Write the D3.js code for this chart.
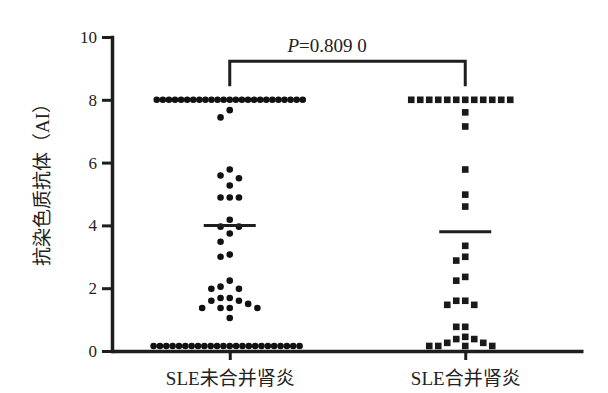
<!DOCTYPE html>
<html>
<head>
<meta charset="utf-8">
<script src="https://cdn.jsdelivr.net/npm/d3@7"></script>
<style>
  body { margin: 0; background: #fff; }
  svg { display: block; }
  text { font-family: "Liberation Serif", "Times New Roman", "Noto Sans CJK SC", serif; fill: #222; }
</style>
</head>
<body>
<svg width="608" height="393"></svg>
<script>
// values
var categories = ['SLE未合并肾炎', 'SLE合并肾炎'];
var groupA = [8, 8, 8, 8, 8, 8, 8, 8, 8, 8, 8, 8, 8, 8, 8, 8, 8, 8, 8, 8, 8, 8, 8, 8, 8,
  7.67, 7.44, 5.78, 5.59, 5.5, 5.27, 4.89, 4.89, 4.89, 4.18, 3.96, 3.96, 3.74, 3.48,
  3.07, 3.0, 2.24, 2.05, 1.98, 1.98, 1.69, 1.69, 1.6, 1.6, 1.5, 1.37, 1.37, 1.37, 1.37, 1.05,
  0.16, 0.16, 0.16, 0.16, 0.16, 0.16, 0.16, 0.16, 0.16, 0.16, 0.16, 0.16,
  0.16, 0.16, 0.16, 0.16, 0.16, 0.16, 0.16, 0.16, 0.16, 0.16, 0.16, 0.16];
var groupB = [8, 8, 8, 8, 8, 8, 8, 8, 8, 8, 8, 8,
  7.6, 7.15, 5.78, 4.98, 4.6, 3.35, 3.0, 2.88, 2.36, 2.24, 1.6, 1.6, 1.47, 1.47,
  0.77, 0.77, 0.45, 0.38, 0.38, 0.26, 0.26, 0.16, 0.16, 0.16, 0.16];
var means = [4.0, 3.8];
var yTicks = [0, 2, 4, 6, 8, 10];
var yTitle = '抗染色质抗体（AI）';
var pText = ['P', '=0.809 0'];

var svg = d3.select('svg');
var ink = '#1e1e1e';

var y = d3.scaleLinear().domain([0, 10]).range([351, 37]);
var x = d3.scalePoint().domain(categories).range([112, 583]).padding(0.5);

// spread points sideways so they don't overlap (like a prism scatter plot)
function dodge(values, step, maxW) {
  var counts = d3.rollup(values, v => v.length, d => d);
  var sorted = values.slice().sort((a, b) => b - a);
  var placed = [];
  sorted.forEach(v => {
    var n = counts.get(v);
    var s = n > 1 ? Math.min(step, maxW / (n - 1)) : step;
    var py = y(v);
    for (var k = 0; k < 200; k++) {
      var off = k === 0 ? 0 : (k % 2 ? -Math.ceil(k / 2) : Math.ceil(k / 2)) * s;
      var hit = placed.some(p => Math.hypot(p.dx - off, p.y - py) < Math.min(s, p.s) - 0.01);
      if (!hit) break;
    }
    placed.push({v: v, y: py, dx: off, s: s});
  });
  return placed;
}

var ptsA = dodge(groupA, 9.2, 146);
var ptsB = dodge(groupB, 9, 146);

svg.append('g').selectAll('circle')
  .data(ptsA)
  .enter().append('circle')
  .attr('cx', d => x(categories[0]) + d.dx)
  .attr('cy', d => d.y)
  .attr('r', 3.3)
  .attr('fill', '#111');

svg.append('g').selectAll('rect')
  .data(ptsB)
  .enter().append('rect')
  .attr('x', d => x(categories[1]) + d.dx - 3.3)
  .attr('y', d => d.y - 3.3)
  .attr('width', 6.6)
  .attr('height', 6.6)
  .attr('fill', '#1a1a1a');

// mean lines
svg.append('g').selectAll('line')
  .data(means)
  .enter().append('line')
  .attr('x1', (d, i) => x(categories[i]) - 26)
  .attr('x2', (d, i) => x(categories[i]) + 26)
  .attr('y1', d => y(d))
  .attr('y2', d => y(d))
  .attr('stroke', ink)
  .attr('stroke-width', 3);

// axes
var yAxis = svg.append('g')
  .attr('transform', 'translate(112,0)')
  .call(d3.axisLeft(y).tickValues(yTicks).tickSize(10).tickSizeOuter(0).tickPadding(5));
yAxis.select('.domain').attr('stroke', ink).attr('stroke-width', 3.5).attr('stroke-linecap', 'square');
yAxis.selectAll('.tick line').attr('stroke', ink).attr('stroke-width', 3);
yAxis.selectAll('.tick text').attr('font-size', 17).attr('fill', '#222')
  .attr('font-family', '"Liberation Serif", serif');

var xAxis = svg.append('g')
  .attr('transform', 'translate(0,351)')
  .call(d3.axisBottom(x).tickSize(9).tickSizeOuter(0).tickPadding(0));
xAxis.select('.domain').attr('stroke', ink).attr('stroke-width', 3.5);
xAxis.selectAll('.tick line').attr('stroke', ink).attr('stroke-width', 3);
xAxis.selectAll('.tick text').attr('font-size', 19).attr('fill', '#222')
  .attr('y', 34).attr('dy', 0)
  .attr('font-family', '"Liberation Serif", "Noto Sans CJK SC", serif');

// y title
svg.append('text')
  .attr('transform', 'translate(49,180) rotate(-90)')
  .attr('text-anchor', 'middle')
  .attr('font-size', 19)
  .attr('fill', '#333')
  .text(yTitle);

// significance bracket
var bx0 = x(categories[0]), bx1 = x(categories[1]);
var bTop = y(9.23), bBot = y(8.43);
svg.append('path')
  .attr('d', 'M' + bx0 + ',' + bBot + 'V' + bTop + 'H' + bx1 + 'V' + bBot)
  .attr('fill', 'none')
  .attr('stroke', ink)
  .attr('stroke-width', 3);

var pt = svg.append('text')
  .attr('x', (bx0 + bx1) / 2 - 60)
  .attr('y', bTop - 9)
  .attr('font-size', 19);
pt.append('tspan').attr('font-style', 'italic').text(pText[0]);
pt.append('tspan').text(pText[1]);
</script>
</body>
</html>
